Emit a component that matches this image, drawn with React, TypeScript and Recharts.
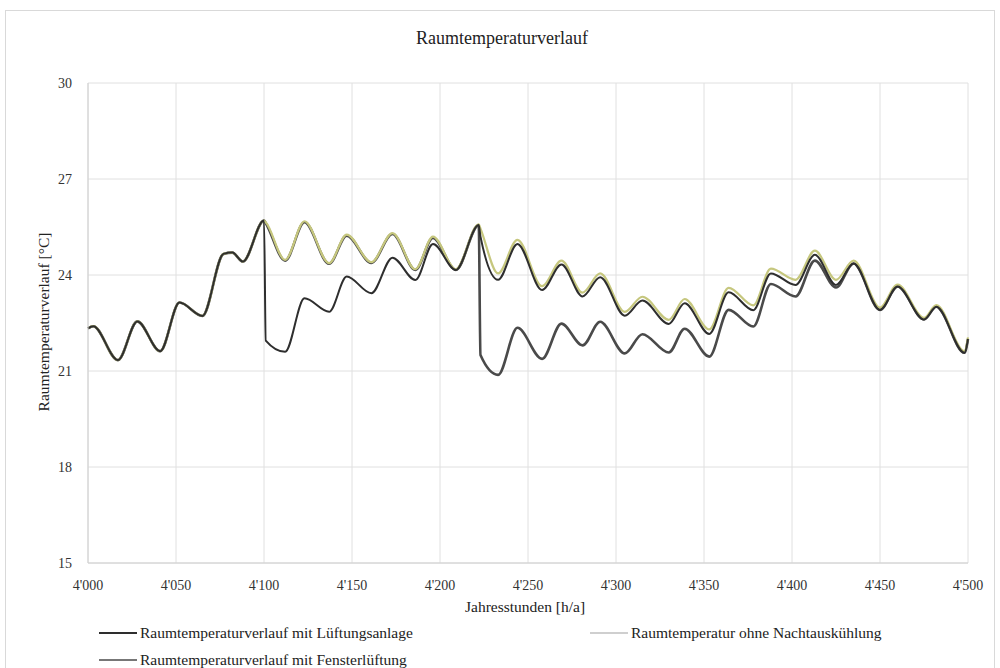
import {
  CartesianGrid,
  Line,
  LineChart,
  XAxis,
  YAxis,
} from "recharts";

// Jahresstunden (h/a) – Stützstellen der drei Verläufe
const hours = [
  4000, 4003, 4017, 4028, 4041, 4052, 4065, 4077, 4082, 4088, 4100, 4101,
  4112, 4123, 4137, 4147, 4161, 4173, 4186, 4196, 4209, 4222, 4223, 4233,
  4244, 4258, 4269, 4281, 4291, 4305, 4315, 4330, 4339, 4353, 4364, 4378,
  4388, 4402, 4413, 4425, 4435, 4450, 4460, 4475, 4482, 4498, 4500,
];

// Raumtemperaturverlauf mit Lüftungsanlage [°C]
const mitLueftungsanlage = [
  22.33, 22.4, 21.34, 22.55, 21.62, 23.14, 22.72, 24.66, 24.7, 24.42, 25.7, 21.95,
  21.6, 23.27, 22.85, 23.95, 23.43, 24.54, 23.84, 24.97, 24.16, 25.56, 25.2, 23.85,
  24.97, 23.53, 24.33, 23.33, 23.93, 22.73, 23.2, 22.47, 23.12, 22.16, 23.46, 22.9,
  24.05, 23.69, 24.63, 23.69, 24.36, 22.91, 23.64, 22.61, 23.01, 21.57, 22.0,
];

// Raumtemperaturverlauf mit Fensterlüftung [°C]
const mitFensterlueftung = [
  22.33, 22.4, 21.34, 22.55, 21.62, 23.14, 22.72, 24.66, 24.7, 24.42, 25.7, 25.62,
  24.45, 25.65, 24.35, 25.23, 24.38, 25.28, 24.16, 25.16, 24.16, 25.56, 21.5, 20.88,
  22.35, 21.38, 22.48, 21.8, 22.54, 21.55, 22.15, 21.58, 22.32, 21.45, 22.91, 22.39,
  23.72, 23.33, 24.45, 23.61, 24.36, 22.91, 23.64, 22.61, 23.01, 21.57, 22.0,
];

// Raumtemperatur ohne Nachtauskühlung [°C]
const ohneNachtauskuehlung = [
  22.33, 22.4, 21.34, 22.55, 21.62, 23.14, 22.72, 24.66, 24.7, 24.42, 25.7, 25.65,
  24.47, 25.68, 24.37, 25.26, 24.4, 25.31, 24.18, 25.2, 24.18, 25.58, 25.45, 24.05,
  25.1, 23.65, 24.45, 23.45, 24.05, 22.85, 23.32, 22.6, 23.25, 22.3, 23.6, 23.05,
  24.2, 23.85, 24.76, 23.85, 24.45, 22.98, 23.7, 22.66, 23.06, 21.62, 22.05,
];

const xTicks = [4000, 4050, 4100, 4150, 4200, 4250, 4300, 4350, 4400, 4450, 4500];
const yTicks = [15, 18, 21, 24, 27, 30];

const data = hours.map((h, i) => ({
  h,
  anlage: mitLueftungsanlage[i],
  fenster: mitFensterlueftung[i],
  ohne: ohneNachtauskuehlung[i],
}));

const FONT = "'Liberation Serif', 'Times New Roman', serif";
const DARK = "#2e2e2e";
const MID = "#4a4a4a";
const LIGHT = "#c6c77e";

const fmtHour = (v: number) =>
  `${Math.floor(v / 1000)}'${String(v % 1000).padStart(3, "0")}`;

function LegendItem({ color, label, x, y }: { color: string; label: string; x: number; y: number }) {
  return (
    <div style={{ position: "absolute", left: x, top: y - 10, height: 20, display: "flex", alignItems: "center" }}>
      <span style={{ display: "inline-block", width: 38, height: 0, borderTop: `2px solid ${color}`, marginRight: 3 }} />
      <span style={{ fontSize: 15.5, color: "#222", whiteSpace: "nowrap" }}>{label}</span>
    </div>
  );
}

export default function App() {
  return (
    <div
      style={{
        position: "absolute",
        left: 0,
        top: 0,
        width: 1000,
        height: 668,
        background: "#fff",
        fontFamily: FONT,
        overflow: "hidden",
      }}
    >
      {/* outer chart frame */}
      <div
        style={{
          position: "absolute",
          left: 5,
          top: 10,
          width: 988,
          height: 680,
          border: "1px solid #d9d9d9",
        }}
      />
      <div
        style={{
          position: "absolute",
          left: 0,
          width: 1004,
          top: 28,
          textAlign: "center",
          fontSize: 18,
          color: "#222",
        }}
      >
        Raumtemperaturverlauf
      </div>
      <div
        style={{
          position: "absolute",
          left: 44,
          top: 322,
          transform: "translate(-50%, -50%) rotate(-90deg)",
          fontSize: 15.5,
          color: "#222",
          whiteSpace: "nowrap",
        }}
      >
        Raumtemperaturverlauf [°C]
      </div>
      <div
        style={{
          position: "absolute",
          left: 465,
          top: 598,
          fontSize: 15.5,
          color: "#222",
          whiteSpace: "nowrap",
        }}
      >
        Jahresstunden [h/a]
      </div>

      <div style={{ position: "absolute", left: 0, top: 0 }}>
        <LineChart
          width={1000}
          height={668}
          data={data}
          margin={{ top: 83, right: 32, bottom: 75, left: 0 }}
        >
          <CartesianGrid stroke="#e0e0e0" strokeWidth={1} />
          <XAxis
            dataKey="h"
            type="number"
            domain={[4000, 4500]}
            ticks={xTicks}
            tickFormatter={fmtHour}
            axisLine={{ stroke: "#d0d0d0" }}
            tickLine={false}
            height={30}
            tickMargin={11}
            tick={{ fontSize: 14, fill: "#333", fontFamily: FONT }}
            interval={0}
          />
          <YAxis
            type="number"
            domain={[15, 30]}
            ticks={yTicks}
            width={88}
            axisLine={{ stroke: "#d0d0d0" }}
            tickLine={false}
            tickMargin={10}
            tick={{ fontSize: 14, fill: "#333", fontFamily: FONT }}
            interval={0}
          />
          <Line
            dataKey="fenster"
            type="monotone"
            stroke={MID}
            strokeWidth={2.6}
            dot={false}
            isAnimationActive={false}
          />
          <Line
            dataKey="ohne"
            type="monotone"
            stroke={LIGHT}
            strokeWidth={2.2}
            dot={false}
            isAnimationActive={false}
          />
          <Line
            dataKey="anlage"
            type="monotone"
            stroke={DARK}
            strokeWidth={2}
            dot={false}
            isAnimationActive={false}
          />
        </LineChart>
      </div>

      <LegendItem color={DARK} label="Raumtemperaturverlauf mit Lüftungsanlage" x={99} y={633} />
      <LegendItem color="#cfcfcf" label="Raumtemperatur ohne Nachtauskühlung" x={590} y={633} />
      <LegendItem color="#777" label="Raumtemperaturverlauf mit Fensterlüftung" x={99} y={660} />
    </div>
  );
}
